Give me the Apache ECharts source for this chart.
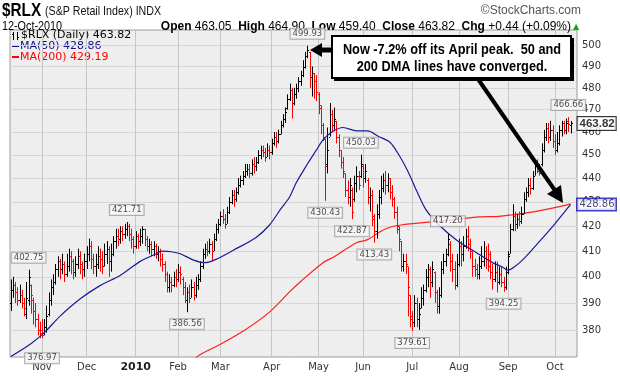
<!DOCTYPE html>
<html>
<head>
<meta charset="utf-8">
<script src="https://cdn.jsdelivr.net/npm/echarts@6/dist/echarts.min.js"></script>
<style>
  html, body { margin: 0; padding: 0; background: #fff; }
  #chart { width: 620px; height: 376px; }
</style>
</head>
<body>
<div id="chart"></div>
<script>
// daily bars, 13-Oct-2009 .. 12-Oct-2010
const opens = [
  390,395,397,394,391,393,390,386,391,397, 391,387,384,380,380,379,381,386,391,396,
  398,403,406,403,405,401,404,408,406,402, 405,408,405,403,406,409,412,407,404,405,
  408,407,404,409,411,406,409,414,416,415, 418,417,419,420,417,415,412,416,414,416,
  419,415,412,413,411,412,409,410,407,405, 401,396,398,397,400,399,402,399,396,391,
  394,392,396,393,397,399,404,409,411,410, 413,410,415,419,421,424,423,421,426,430,
  433,431,434,437,439,441,443,444,442,446, 445,447,450,452,451,449,452,451,455,458,
  456,459,463,466,471,475,479,473,477,480, 483,486,490,495,497,485,487,483,477,471,
  463,457,446,458,468,463,465,458,452,447, 442,435,432,435,431,438,441,441,445,440,
  439,432,433,423,418,425,432,436,439,437, 440,434,431,426,419,414,404,406,404,393,
  385,383,390,384,388,392,395,400,403,398, 402,394,389,393,403,406,409,413,406,403,
  397,405,412,409,412,416,413,410,404,403, 401,404,406,410,407,409,402,399,402,398,
  401,398,396,402,409,419,424,421,423,422, 425,431,434,437,436,441,445,443,446,452,
  458,462,458,461,456,452,455,461,464,461, 465,463.05
];
const highs = [
  399,400,398,396,397,395,392,398,402.75,397, 392,390,386,383,384,384,389,394,399,401,
  405,408,407,409,406,409,411,410,407,408, 411,410,406,409,412,415,414,409,409,412,
  411,410,413,414,412,413,416,419,419,420, 420,421,421.71,421,419,416,418,417,419,420,
  419,416,415,414,414,413,412,411,409,406, 402,401,400,402,403,405,404,400,398,396,
  397,399,398,400,401,406,411,413,414,415, 414,417,421,423,426,427,425,428,432,435,
  435,436,440,441,443,446,446,446,448,449, 449,452,454,454,453,455,454,457,460,460,
  461,465,468,471,477,482,480,480,482,485, 488,493,497,499.93,497,490,487,486,478,472,
  464,457,462,473,470,471,465,459,452,449, 442,439,440,436,441,445,443,450.03,446,446,
  440,436,435,425,429,435,441,442,443,442, 440,437,432,428,420,414,409,409,404,393,
  387,393,392,390,396,397,403,405,404,406, 402,395,396,406,409,411,417.20,414,409,406,
  409,415,414,416,419,420,415,410,407,405, 408,412,414,412,413,410,405,406,406,404,
  404,400,404,410,421,429,426,425,426,428, 434,436,440,440,443,447,448,446,455,461,
  464,464,465,463,459,460,463,465,465,466, 466.66,464.90
];
const lows = [
  387,392,390,389,390,388,385,384,389,386, 382,381,378,377,376.97,378,379,385,389,393,
  397,400,399,401,398,400,402,401,399,400, 403,401,399,400,403,406,403,401,400,403,
  402,401,404,405,400,402,408,411,412,413, 414,415,416,414,411,409,411,411,412,413,
  412,410,409,408,408,407,406,404,402,398, 394,394,394,396,396,398,397,393,390,386.56,
  390,392,391,392,395,398,403,407,408,409, 406,410,414,417,420,421,419,421,425,429,
  428,430,433,436,437,440,441,440,441,442, 443,446,448,449,447,449,448,450,454,453,
  455,459,462,464,470,474,466,472,475,478, 481,485,489,494,480,476,475,474,468,459,
  456,430.43,442,458,460,461,455,449,444,440, 432,429,428,422.87,430,434,435,440,436,438,
  429,426,420,413.43,415,423,429,434,433,434, 431,428,423,417,410,402,402,401,385,381,
  379.61,381,381,380,388,389,394,396,392,396, 390,386,386,392,401,404,408,402,398,395,
  396,404,404,406,411,410,407,400,400,399, 399,403,404,403,402,399,395,398,394,397,
  396,394.25,395,401,409,418,418,419,420,421, 425,430,432,433,435,441,442,441,445,451,
  456,455,456,453,450,451,454,458,459,459, 460,459.40
];
const closes = [
  395,397,394,391,393,390,388,392,400,393, 387,384,380,379,378,381,385,391,396,398,
  403,406,403,405,401,404,408,406,402,405, 408,405,403,406,409,412,407,404,405,408,
  407,404,409,411,406,409,414,416,415,418, 417,419,420,417,415,412,416,414,416,419,
  415,412,413,411,412,409,410,407,405,401, 396,398,397,400,399,402,401,396,391,394,
  392,396,393,397,399,404,409,411,410,413, 410,415,419,421,424,423,421,426,430,433,
  431,434,437,439,441,443,444,442,446,445, 447,450,452,451,449,452,451,455,458,456,
  459,463,466,469,475,479,473,477,480,483, 486,490,495,498,485,487,483,478,472,463,
  458,445,452,468,463,466,458,452,447,443, 435,432,437,426,438,441,437,446,440,443,
  432,433,424,418,425,432,436,439,437,440, 434,431,426,420,415,404,406,405,396,384,
  383,390,384,386,392,395,400,403,398,403, 394,389,393,403,406,409,415,406,403,397,
  405,412,409,412,416,413,410,404,403,401, 404,406,410,407,404,402,399,402,398,401,
  398,396,402,408,419,424,421,423,422,425, 431,434,437,436,441,445,443,442,452,458,
  462,458,461,456,452,455,461,464,461,464, 463.38,463.82
];

// moving averages, read at points along the curves: [bar index, value]
const ma50Pts = [
  [0,370.4],[9,375],[15,379],[22,385],[31,391.5],[40,396.6],[49,400.5],[58,406],[64,408.5],
  [68,410],[72,409.8],[76,409],[82,406.5],[87,405.5],[92,406.8],[100,410.5],[110,415.5],
  [116,420.5],[121,427],[125,432],[128,438],[133,446],[137,452],[140,456.5],[144,460],
  [149,462],[155,460.5],[160,460.5],[165,458],[170,455.5],[174,450],[178,443],[182,434.6],
  [186,427],[192,420.5],[200,414.4],[209,409.3],[216,405.5],[220,404],[223,402.6],[226,404],
  [230,407],[237,413.8],[244,421],[248,425.5],[251,428.86]
];
const ma200Pts = [
  [80,367],[84,370.6],[94,374.8],[105,380],[116,386.6],[125,394.2],[130,398.2],[140,405.5],
  [145,407.8],[155,413.4],[160,414.6],[165,417.5],[170,419.6],[175,420.5],[189,421.8],
  [200,422.8],[210,423.8],[219,424],[225,424.7],[235,426],[245,427.8],[251,429.19]
];

const monthIdx = [14, 34, 56, 75, 94, 117, 138, 158, 180, 201, 223, 244];
const monthLabels = ['Nov', 'Dec', '2010', 'Feb', 'Mar', 'Apr', 'May', 'Jun', 'Jul', 'Aug', 'Sep', 'Oct'];
const yTicks = [380, 390, 400, 410, 420, 430, 440, 450, 460, 470, 480, 490, 500];

// bars that carry a price flag
const peakIdx = [8, 52, 133, 157, 196, 250];
const troughIdx = [14, 79, 141, 153, 163, 180, 221];

const last = closes.length - 1;
const ma50Last = ma50Pts[ma50Pts.length - 1][1];
const ma200Last = ma200Pts[ma200Pts.length - 1][1];

// red when the close is below the previous close
const ohlc = closes.map((c, i) => [i, opens[i], highs[i], lows[i], c, i > 0 && c < closes[i - 1] ? 1 : 0]);

function renderOhlc (params, api) {
  const i = api.value(0);
  const hi = api.coord([i, api.value(2)]);
  const lo = api.coord([i, api.value(3)]);
  const op = api.coord([i, api.value(1)]);
  const cl = api.coord([i, api.value(4)]);
  const c = Math.round(hi[0]);
  const style = { stroke: api.value(5) ? '#ff0000' : '#000000', lineWidth: 1 };
  const yo = Math.round(op[1]) + 0.5;
  const yc = Math.round(cl[1]) + 0.5;
  return {
    type: 'group',
    children: [
      { type: 'line', shape: { x1: c + 0.5, y1: hi[1], x2: c + 0.5, y2: lo[1] }, style: style },
      { type: 'line', shape: { x1: c - 1, y1: yo, x2: c, y2: yo }, style: style },
      { type: 'line', shape: { x1: c + 1, y1: yc, x2: c + 2, y2: yc }, style: style }
    ]
  };
}

const flagLabel = {
  show: true,
  distance: 7,
  formatter: p => p.value[1].toFixed(2),
  fontFamily: 'DejaVu Sans',
  fontSize: 8.5,
  lineHeight: 10,
  color: '#222',
  backgroundColor: '#f8f8f8',
  borderColor: '#9a9a9a',
  borderWidth: 1,
  padding: [0, 2, 0, 2]
};
const flags = peakIdx.map(i => ({
  value: [i, highs[i]],
  label: { position: 'top' }
})).concat(troughIdx.map(i => ({
  value: [i, lows[i]],
  label: { position: 'bottom', distance: i === 14 ? 15 : 7 }
})));

const chart = echarts.init(document.getElementById('chart'));
const font = 'DejaVu Sans';

chart.setOption({
  animation: false,
  backgroundColor: '#ffffff',
  grid: {
    show: true,
    left: 10,
    top: 30,
    width: 567,
    height: 327,
    backgroundColor: '#eeeeee',
    borderColor: '#9c9c9c',
    borderWidth: 1
  },
  xAxis: {
    type: 'value',
    min: -0.36,
    max: 253.9,
    axisLine: { show: false },
    axisTick: { show: false, customValues: monthIdx },
    splitLine: { show: true, lineStyle: { color: '#c6c6c6', width: 1 } },
    axisLabel: {
      customValues: monthIdx,
      margin: 5,
      fontFamily: font,
      fontSize: 10,
      color: '#333',
      formatter: v => {
        const k = monthIdx.indexOf(Math.round(v));
        if (k < 0) return '';
        return monthLabels[k] === '2010' ? '{b|2010}' : monthLabels[k];
      },
      rich: { b: { fontFamily: font, fontSize: 11, fontWeight: 'bold', color: '#222' } }
    }
  },
  yAxis: {
    type: 'log',
    logBase: 10,
    position: 'right',
    min: 370.2,
    max: 507.6,
    axisLine: { show: false },
    axisTick: { show: false, customValues: yTicks },
    splitLine: { show: true, lineStyle: { color: '#d6d6d6', width: 1 } },
    axisLabel: {
      customValues: yTicks,
      margin: 5,
      fontFamily: font,
      fontSize: 10,
      color: '#333',
      formatter: v => String(Math.round(v))
    }
  },
  series: [
    {
      name: 'MA(200)',
      type: 'line',
      data: ma200Pts,
      smooth: 0.3,
      symbol: 'none',
      clip: true,
      lineStyle: { color: '#ff2020', width: 1.2 },
      z: 3
    },
    {
      name: '$RLX',
      type: 'custom',
      renderItem: renderOhlc,
      data: ohlc,
      encode: { x: 0, y: [2, 3] },
      clip: true,
      z: 4
    },
    {
      name: 'MA(50)',
      type: 'line',
      data: ma50Pts,
      smooth: 0.3,
      symbol: 'none',
      clip: true,
      lineStyle: { color: '#1c1c96', width: 1.2 },
      z: 5
    },
    {
      name: 'flags',
      type: 'scatter',
      data: flags,
      symbolSize: 0,
      label: flagLabel,
      z: 6
    },
    {
      name: 'tags',
      type: 'scatter',
      symbolSize: 0,
      z: 7,
      data: [
        {
          value: [last, closes[last]],
          label: {
            show: true, position: 'right', distance: 7,
            formatter: p => p.value[1].toFixed(2),
            fontFamily: 'Liberation Sans', fontSize: 11.5, fontWeight: 'bold', color: '#000',
            backgroundColor: '#fff', borderColor: '#000', borderWidth: 1, padding: [1, 1, 0, 2]
          }
        },
        {
          value: [last, ma50Last],
          label: {
            show: true, position: 'right', distance: 7,
            formatter: p => p.value[1].toFixed(2),
            fontFamily: 'DejaVu Sans', fontSize: 10, color: '#1a1a60',
            backgroundColor: '#fff', borderColor: '#1010b0', borderWidth: 1.5, padding: [1, 1, 0, 2]
          }
        }
      ]
    }
  ],
  graphic: [
    { type: 'text', x: 2, y: 2, scaleX: 0.85, style: { text: '$RLX', font: 'bold 18px "Liberation Sans"', fill: '#000' } },
    { type: 'text', x: 45, y: 5, scaleX: 0.82, style: { text: '(S&P Retail Index) INDX', font: '13px "Liberation Sans"', fill: '#111' } },
    { type: 'text', x: 2, y: 21, scaleX: 0.9, style: { text: '12-Oct-2010', font: '12px "Liberation Sans"', fill: '#000' } },
    {
      type: 'text', x: 571, y: 21,
      style: {
        text: '{b|Open} 463.05  {b|High} 464.90  {b|Low} 459.40  {b|Close} 463.82  {b|Chg} +0.44 (+0.09%)',
        font: '12px "Liberation Sans"', fill: '#000', align: 'right',
        rich: { b: { font: 'bold 12px "Liberation Sans"', fill: '#000' } }
      }
    },
    { type: 'text', x: 573, y: 23, style: { text: '▲', font: '8px "DejaVu Sans"', fill: '#00b000' } },
    { type: 'text', x: 581, y: 5, style: { text: '©StockCharts.com', font: '12px "Liberation Sans"', fill: '#555', align: 'right' } },

    // legend inside the plot
    { type: 'line', shape: { x1: 13.5, y1: 32, x2: 13.5, y2: 40 }, style: { stroke: '#000', lineWidth: 1 } },
    { type: 'line', shape: { x1: 12, y1: 34.5, x2: 13, y2: 34.5 }, style: { stroke: '#000', lineWidth: 1 } },
    { type: 'line', shape: { x1: 17.5, y1: 32, x2: 17.5, y2: 40 }, style: { stroke: '#000', lineWidth: 1 } },
    { type: 'line', shape: { x1: 18, y1: 37.5, x2: 19, y2: 37.5 }, style: { stroke: '#000', lineWidth: 1 } },
    { type: 'text', x: 21, y: 30, style: { text: '$RLX (Daily) 463.82', font: '11px "DejaVu Sans"', fill: '#000' } },
    { type: 'rect', shape: { x: 12, y: 45, width: 7, height: 2 }, style: { fill: '#10108a' } },
    { type: 'text', x: 20, y: 41, style: { text: 'MA(50) ' + ma50Last.toFixed(2), font: '11px "DejaVu Sans"', fill: '#10108a' } },
    { type: 'rect', shape: { x: 12, y: 56, width: 7, height: 2 }, style: { fill: '#ff0000' } },
    { type: 'text', x: 20, y: 52, style: { text: 'MA(200) ' + ma200Last.toFixed(2), font: '11px "DejaVu Sans"', fill: '#ff0000' } },

    // annotation box with arrows
    { type: 'rect', z: 20, shape: { x: 334, y: 38, width: 240, height: 43 }, style: { fill: '#000' } },
    { type: 'rect', z: 21, shape: { x: 332, y: 36, width: 239, height: 42 }, style: { fill: '#fff', stroke: '#000', lineWidth: 2 } },
    {
      type: 'text', z: 22, x: 452, y: 50, scaleX: 0.85,
      style: { text: 'Now -7.2% off its April peak.  50 and', font: 'bold 15px "Liberation Sans"', fill: '#000', align: 'center', verticalAlign: 'middle' }
    },
    {
      type: 'text', z: 22, x: 452, y: 67, scaleX: 0.85,
      style: { text: '200 DMA lines have converged.', font: 'bold 15px "Liberation Sans"', fill: '#000', align: 'center', verticalAlign: 'middle' }
    },
    { type: 'line', z: 20, shape: { x1: 320, y1: 50, x2: 332, y2: 50 }, style: { stroke: '#000', lineWidth: 5 } },
    { type: 'polygon', z: 20, shape: { points: [[310, 50], [322, 43], [322, 57]] }, style: { fill: '#000' } },
    { type: 'line', z: 20, shape: { x1: 478, y1: 79, x2: 556, y2: 192 }, style: { stroke: '#000', lineWidth: 4 } },
    { type: 'polygon', z: 20, shape: { points: [[563, 203], [547, 194], [561, 185]] }, style: { fill: '#000' } }
  ]
});
</script>
</body>
</html>
